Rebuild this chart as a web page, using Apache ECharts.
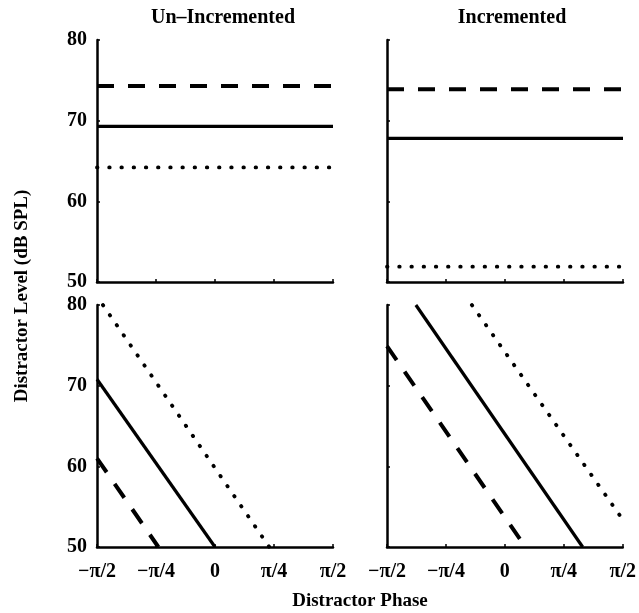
<!DOCTYPE html>
<html>
<head>
<meta charset="utf-8">
<script src="https://cdn.jsdelivr.net/npm/echarts@6/dist/echarts.min.js"></script>
<style>
  html, body { margin: 0; padding: 0; background: #fff; }
  #chart { width: 639px; height: 613px; }
</style>
</head>
<body>
<div id="chart"></div>
<script>
// phase is in units of pi/4, so -2..2 is -pi/2..pi/2
const phaseTicks = ['−π/2', '−π/4', '0', 'π/4', 'π/2'];
const panelTitles = ['Un–Incremented', 'Incremented'];
const levelMin = 50, levelMax = 80, levelStep = 10;

// top row: flat levels (dashed, solid, dotted)
const unIncFlat = [74.3, 69.3, 64.2];
const incFlat = [73.9, 67.8, 51.9];

// bottom row: sloped lines, [phase, level] end points
const unIncDashed = [[-2, 61.0], [-0.96, 50]];
const unIncSolid = [[-2, 70.8], [0, 50]];
const unIncDotted = [[-1.9, 80], [0.92, 50]];
const incDashed = [[-2, 74.9], [0.35, 50]];
const incSolid = [[-1.51, 80], [1.32, 50]];
const incDotted = [[-0.56, 80], [2, 53.4]];

const chart = echarts.init(document.getElementById('chart'));

const font = 'Liberation Serif';
const styles = [
  { type: [17, 14], width: 4 },                 // dashed
  { type: 'solid', width: 3.2 },                // solid
  { type: [0.5, 11.7], width: 3.8, cap: 'round' } // dotted
];

const grids = [
  { left: 97, top: 40, width: 236, height: 242 },
  { left: 387, top: 40, width: 236, height: 242 },
  { left: 97, top: 305, width: 236, height: 242 },
  { left: 387, top: 305, width: 236, height: 242 }
];

const axisLine = { show: true, onZero: false, lineStyle: { color: '#000', width: 2.5 } };
const axisTick = { show: true, inside: true, length: 3, lineStyle: { color: '#000', width: 1.5 } };
const labelStyle = { color: '#000', fontFamily: font, fontWeight: 'bold', fontSize: 20 };

const xAxis = grids.map((g, i) => ({
  type: 'value', gridIndex: i, min: -2, max: 2, interval: 1,
  axisLine: axisLine, axisTick: axisTick, splitLine: { show: false },
  axisLabel: Object.assign({
    show: i >= 2, margin: 15,
    formatter: v => phaseTicks[Math.round(v) + 2]
  }, labelStyle)
}));

const yAxis = grids.map((g, i) => ({
  type: 'value', gridIndex: i, min: levelMin, max: levelMax, interval: levelStep,
  axisLine: axisLine, axisTick: axisTick, splitLine: { show: false },
  axisLabel: Object.assign({ show: i % 2 === 0, margin: 10 }, labelStyle)
}));

function flatLine(v) { return [[-2, v], [2, v]]; }

const panelData = [
  unIncFlat.map(flatLine),
  incFlat.map(flatLine),
  [unIncDashed, unIncSolid, unIncDotted],
  [incDashed, incSolid, incDotted]
];

const series = [];
panelData.forEach((lines, i) => {
  lines.forEach((d, k) => {
    series.push({
      type: 'line', xAxisIndex: i, yAxisIndex: i, data: d,
      symbol: 'none', silent: true,
      lineStyle: Object.assign({ color: '#000' }, styles[k])
    });
  });
});

const option = {
  backgroundColor: '#fff',
  animation: false,
  title: panelTitles.map((t, i) => ({
    text: t, left: [218, 507][i], top: 3, textAlign: 'center',
    textStyle: { color: '#000', fontFamily: font, fontWeight: 'bold', fontSize: 20 }
  })),
  grid: grids,
  xAxis: xAxis,
  yAxis: yAxis,
  series: series,
  graphic: [
    {
      type: 'text', x: 22, y: 296, rotation: Math.PI / 2,
      style: { text: 'Distractor Level (dB SPL)', fill: '#000', font: 'bold 19px "Liberation Serif"',
        textAlign: 'center', textVerticalAlign: 'middle' }
    },
    {
      type: 'text', x: 360, y: 601,
      style: { text: 'Distractor Phase', fill: '#000', font: 'bold 19px "Liberation Serif"',
        textAlign: 'center', textVerticalAlign: 'middle' }
    }
  ]
};

chart.setOption(option);
</script>
</body>
</html>
